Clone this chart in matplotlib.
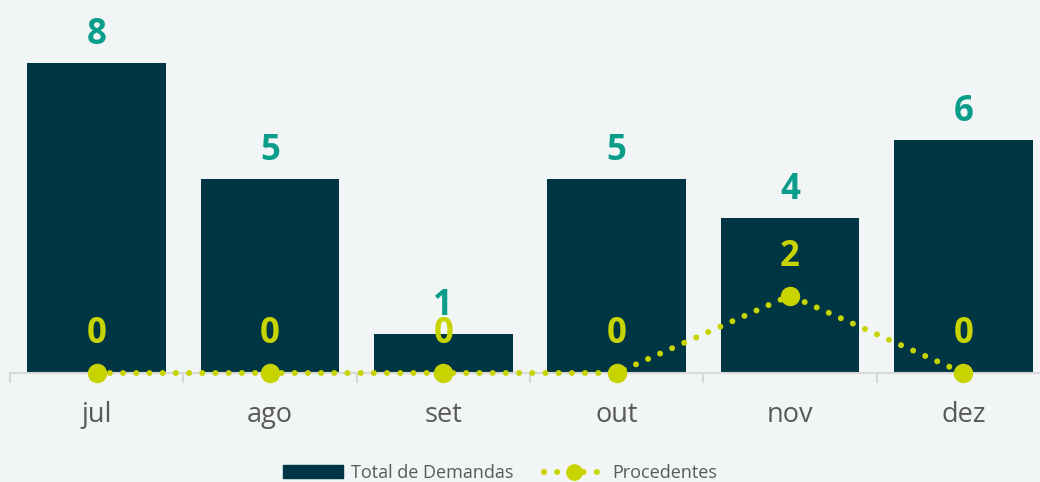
import matplotlib.pyplot as plt
from matplotlib.lines import Line2D
from matplotlib.patches import Patch
import numpy as np

months = ["jul", "ago", "set", "out", "nov", "dez"]
total_demandas = [8, 5, 1, 5, 4, 6]
procedentes = [0, 0, 0, 0, 2, 0]

BG = "#f1f5f6"
BAR = "#003644"
TEAL = "#0a9e8a"
LIME = "#c8d400"
GRID = "#d9d9d9"
TXT = "#595959"

plt.rcParams["font.family"] = ["Open Sans", "DejaVu Sans"]

fig = plt.figure(figsize=(10.4, 4.82), dpi=100, facecolor=BG)
ax = fig.add_axes([10 / 1040, 109 / 482, 1040 / 1040, 373 / 482])
ax.set_facecolor(BG)

x = np.arange(len(months))
ax.bar(x, total_demandas, width=0.8, color=BAR, zorder=2)
ax.plot(x, procedentes, color=LIME, lw=4.3, ls=(0, (0.01, 2.2)),
        dash_capstyle="round", marker="o", markersize=13, zorder=3,
        clip_on=False)

for xi, v in zip(x, total_demandas):
    ax.annotate(str(v), (xi, v), xytext=(0, 14), textcoords="offset points",
                ha="center", va="baseline", color=TEAL, fontsize=25,
                fontweight="bold", zorder=4)
for xi, v in zip(x, procedentes):
    ax.annotate(str(v), (xi, v), xytext=(0, 21.5), textcoords="offset points",
                ha="center", va="baseline", color=LIME, fontsize=25,
                fontweight="bold", zorder=4)

ax.set_xlim(-0.5, len(months) - 0.5)
ax.set_ylim(0, 373 / 38.75)
for s in ["top", "right", "left"]:
    ax.spines[s].set_visible(False)
ax.spines["bottom"].set_color(GRID)
ax.spines["bottom"].set_linewidth(1.5)
ax.set_yticks([])
ax.set_xticks(x)
ax.set_xticklabels(months, fontsize=19.5, color=TXT)
ax.tick_params(axis="x", which="major", length=0, pad=20)
ax.set_xticks(np.arange(-0.5, len(months), 1.0), minor=True)
ax.tick_params(axis="x", which="minor", length=7, width=1.5, color=GRID)

handles = [
    Patch(facecolor=BAR, edgecolor=BAR),
    Line2D([0], [0], color=LIME, lw=4.3, ls=(0, (0.01, 2.2)),
           dash_capstyle="round", marker="o", markersize=11),
]
fig.legend(handles, ["Total de Demandas", "Procedentes"],
           loc="center", bbox_to_anchor=(500 / 1040, 9 / 482), ncol=2,
           frameon=False, fontsize=13, labelcolor=TXT, handlelength=3.3,
           handleheight=0.7, columnspacing=1.7, handletextpad=0.45,
           borderpad=0.2)

fig.savefig("out.png", dpi=100, facecolor=BG)
